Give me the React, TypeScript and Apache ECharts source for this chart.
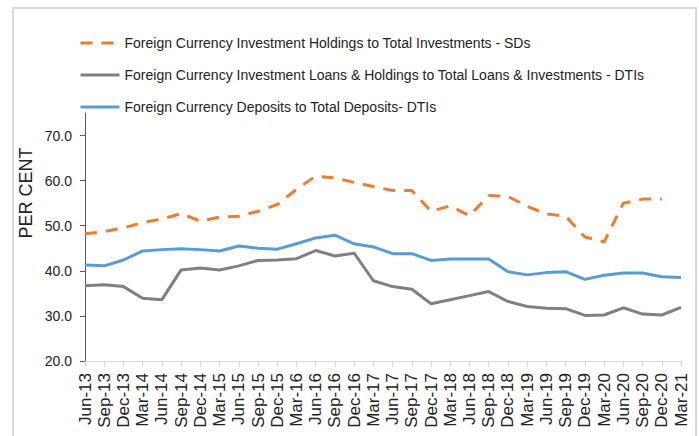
import React, { useEffect, useRef } from "react";
import * as echarts from "echarts";

const categories = [
  "Jun-13", "Sep-13", "Dec-13", "Mar-14", "Jun-14", "Sep-14", "Dec-14", "Mar-15",
  "Jun-15", "Sep-15", "Dec-15", "Mar-16", "Jun-16", "Sep-16", "Dec-16", "Mar-17",
  "Jun-17", "Sep-17", "Dec-17", "Mar-18", "Jun-18", "Sep-18", "Dec-18", "Mar-19",
  "Jun-19", "Sep-19", "Dec-19", "Mar-20", "Jun-20", "Sep-20", "Dec-20", "Mar-21",
];

const sdsHoldings = [
  48.2, 48.7, 49.5, 50.7, 51.5, 52.7, 51.0, 51.9,
  52.1, 53.2, 54.7, 58.1, 61.0, 60.6, 59.6, 58.7,
  57.8, 57.8, 53.2, 54.4, 52.2, 56.7, 56.5, 54.3,
  52.6, 52.1, 47.5, 46.4, 55.0, 55.9, 55.9, null,
];

const dtiLoansHoldings = [
  36.7, 36.9, 36.5, 33.9, 33.6, 40.2, 40.6, 40.2,
  41.1, 42.3, 42.4, 42.7, 44.5, 43.3, 43.9, 37.8,
  36.5, 35.9, 32.7, 33.6, 34.5, 35.4, 33.2, 32.1,
  31.7, 31.6, 30.1, 30.2, 31.8, 30.4, 30.2, 31.9,
];

const dtiDeposits = [
  41.3, 41.1, 42.4, 44.4, 44.7, 44.9, 44.7, 44.4,
  45.5, 45.0, 44.8, 46.0, 47.3, 47.9, 46.0, 45.3,
  43.8, 43.8, 42.3, 42.6, 42.6, 42.6, 39.8, 39.1,
  39.6, 39.8, 38.1, 39.0, 39.5, 39.5, 38.7, 38.5,
];

const yTicks = [20, 30, 40, 50, 60, 70];

const seriesNames = [
  "Foreign Currency Investment Holdings to Total Investments - SDs",
  "Foreign Currency Investment Loans & Holdings to Total Loans & Investments - DTIs",
  "Foreign Currency Deposits to Total Deposits- DTIs",
];

const FONT = "'Liberation Sans', Arial, sans-serif";

export default function App() {
  const ref = useRef<HTMLDivElement>(null);

  useEffect(() => {
    if (!ref.current) return;
    const chart = echarts.init(ref.current, undefined, { renderer: "svg" });
    chart.setOption({
      animation: false,
      backgroundColor: "#ffffff",
      textStyle: { fontFamily: FONT },
      grid: { left: 85, right: 18, top: 113, bottom: 75 },
      legend: {
        orient: "vertical",
        left: 74,
        top: 31,
        itemWidth: 39,
        itemHeight: 14,
        itemGap: 18,
        itemStyle: { color: "transparent", borderColor: "transparent", borderWidth: 0 },
        lineStyle: { width: 3 },
        textStyle: { fontSize: 14, color: "#222", fontFamily: FONT },
        data: seriesNames,
      },
      graphic: [
        {
          type: "rect",
          shape: { x: 13, y: 8, width: 683, height: 450 },
          style: { fill: "none", stroke: "#d9d9d9", lineWidth: 2 },
          silent: true,
        },
        {
          type: "text",
          x: 26,
          y: 193,
          rotation: Math.PI / 2,
          style: {
            text: "PER CENT",
            fontSize: 18,
            fontFamily: FONT,
            fill: "#222",
            align: "center",
            verticalAlign: "middle",
          },
        },
      ],
      xAxis: {
        type: "category",
        data: categories,
        boundaryGap: false,
        axisLine: { lineStyle: { color: "#d9d9d9", width: 1 } },
        axisTick: { show: true, length: 6, lineStyle: { color: "#d9d9d9" } },
        axisLabel: {
          interval: 0,
          rotate: 90,
          fontSize: 17,
          margin: 12,
          color: "#222",
          fontFamily: FONT,
        },
        splitLine: { show: false },
      },
      yAxis: {
        type: "value",
        min: 20,
        max: 75,
        interval: 10,
        splitLine: { show: false },
        axisLine: { show: true, lineStyle: { color: "#595959", width: 1 } },
        axisTick: {
          show: true,
          length: 5,
          customValues: yTicks,
          lineStyle: { color: "#595959" },
        },
        axisLabel: {
          customValues: yTicks,
          formatter: (v: number) => v.toFixed(1),
          fontSize: 14,
          margin: 13,
          color: "#222",
          fontFamily: FONT,
        },
      },
      series: [
        {
          name: seriesNames[0],
          type: "line",
          data: sdsHoldings,
          symbol: "none",
          connectNulls: false,
          lineStyle: { color: "#ED7D31", width: 3, type: [12, 9] },
          itemStyle: { color: "#ED7D31" },
        },
        {
          name: seriesNames[1],
          type: "line",
          data: dtiLoansHoldings,
          symbol: "none",
          lineStyle: { color: "#808080", width: 3 },
          itemStyle: { color: "#808080" },
        },
        {
          name: seriesNames[2],
          type: "line",
          data: dtiDeposits,
          symbol: "none",
          lineStyle: { color: "#5B9BD5", width: 3 },
          itemStyle: { color: "#5B9BD5" },
        },
      ],
    });
    return () => chart.dispose();
  }, []);

  return (
    <div
      ref={ref}
      style={{ position: "fixed", left: 0, top: 0, width: 699, height: 436 }}
    />
  );
}
